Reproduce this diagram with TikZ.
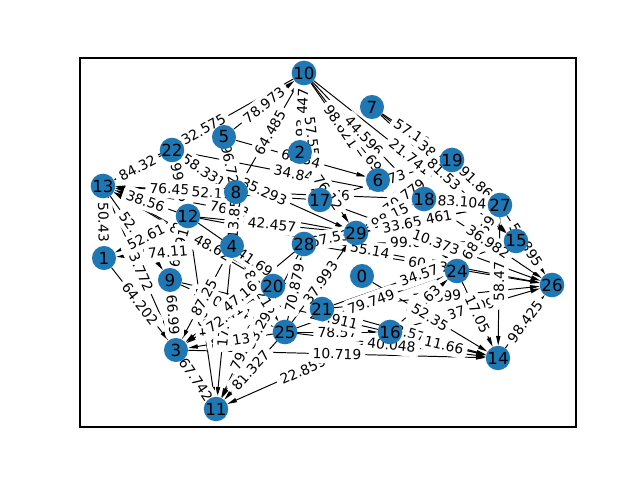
\documentclass[tikz,border=0pt]{standalone}
\usepackage{fontspec}
\setmainfont{DejaVu Sans}
\usetikzlibrary{arrows.meta}
\definecolor{nodeblue}{HTML}{1F78B4}
\begin{document}
\begin{tikzpicture}[x=0.72pt,y=-0.72pt,
  vtx/.style={circle,minimum size=17.3pt,inner sep=0pt},
  vfill/.style={vtx,fill=nodeblue,font=\fontsize{12}{12}\selectfont},
  edgeline/.style={-{Triangle[length=7pt,width=3pt]},line width=0.7pt,black},
  lbl/.style={fill=white,rounded corners=3pt,inner sep=3pt,font=\fontsize{10}{10}\selectfont,sloped}]
\useasboundingbox (0,0) rectangle (640,480);
\draw[line width=0.8pt] (80,58) rectangle (576,427);
\def\nodelist{0/362/276,1/104/258,2/300/152,3/176/350,4/232/246,5/224/137,6/378/180,7/372/107,8/236/192,9/170/280,10/304/73,11/216/409,12/188/216,13/103/186,14/498/358,15/516/241,16/390/332,17/320/200,18/424/199,19/452/160,20/273/286,21/322/309,22/172/150,24/457/271,25/285/332,26/552/285,27/500/205,28/304/244,29/356/233}
\def\edgelist{10/13/32.575,5/10/78.973,8/10/64.485,2/10/93.447,10/6/98.621,10/18/44.596,10/15/21.741,10/17/57.55,10/24/69.28,7/19/57.18,7/27/38.61,7/15/81.53,19/27/91.86,18/27/83.104,29/27/64.461,29/19/70.779,24/27/68.159,27/26/56.895,14/26/98.425,16/26/37.809,27/14/58.47,21/26/74.399,16/11/22.859,25/11/81.327,20/11/79.103,28/11/33.296,25/3/87.13,9/25/40.114,12/11/41.954,9/3/66.99,3/11/67.742,1/3/64.202,13/1/50.43,13/9/52.676,13/3/83.772,22/13/84.32,22/8/58.331,22/12/99.56,8/13/76.45,12/13/38.56,17/13/52.17,20/13/84.16,21/13/48.62,12/9/67.91,22/29/35.293,29/13/76.73,12/29/42.457,22/18/34.842,5/8/96.72,5/6/63.34,12/21/41.69,4/25/84.21,29/18/98.15,28/27/33.65,28/15/99.63,12/26/55.14,28/26/60.53,17/26/10.373,18/26/36.982,21/15/34.57,25/24/79.749,25/16/78.57,3/14/10.719,21/14/63.571,25/14/40.048,9/14/20.911,16/24/28.63,16/14/11.66,0/14/52.35,24/14/17.05,17/19/51.73,8/18/21.76,12/1/52.61,4/1/74.11,4/11/17.29,4/3/87.25,8/4/13.85,2/29/76.12,20/3/72.41,28/3/47.16,25/29/37.993,25/28/70.879,28/29/67.53}
% anchor nodes (invisible)
\foreach \n/\x/\y in \nodelist { \node[vtx] (v\n) at (\x,\y) {}; }
% edges
\foreach \s/\t/\l in \edgelist { \draw[edgeline] (v\s) -- (v\t); }
% edge labels
\foreach \s/\t/\l in \edgelist { \path (v\s) -- node[lbl] {\l} (v\t); }
% visible nodes on top
\foreach \n/\x/\y in \nodelist { \node[vfill] (w\n) at (\x,\y) {\n}; }
\end{tikzpicture}
\end{document}
